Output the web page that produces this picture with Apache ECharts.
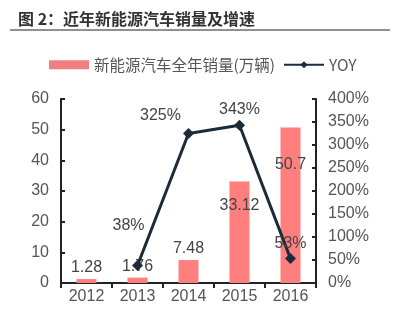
<!DOCTYPE html>
<html>
<head>
<meta charset="utf-8">
<script src="https://cdn.jsdelivr.net/npm/echarts@6/dist/echarts.min.js"></script>
<style>
  html, body { margin: 0; padding: 0; background: #fff; }
  #chart { width: 394px; height: 320px; }
</style>
</head>
<body>
<div id="chart"></div>
<script>
var years = ['2012', '2013', '2014', '2015', '2016'];
var sales = [1.28, 1.76, 7.48, 33.12, 50.7];
var yoy = ['-', 38, 325, 343, 53];

var font = 'Liberation Sans, Arial, Noto Sans CJK SC';

var myChart = echarts.init(document.getElementById('chart'));

// label placement per bar (small bars above, big bars inside)
var barLabelPos = ['top', 'top', 'top', 'insideTop', 'insideTop'];
var barLabelOff = [[0, 2], [0, 2], [0, 2], [0, 11], [0, 24]];
// label offsets for the line points
var lineLabelOff = [[0, 0], [-9, -20], [-28, 2], [0, 4], [0, 4]];

var option = {
    animation: false,
    textStyle: { fontFamily: font },
    title: {
        text: '图 2：近年新能源汽车销量及增速',
        left: 13,
        top: 6,
        textStyle: {
            fontFamily: 'Noto Sans CJK SC',
            fontSize: 16,
            fontWeight: 'bold',
            color: '#333'
        }
    },
    graphic: [{
        type: 'line',
        shape: { x1: 10, y1: 30, x2: 390, y2: 30 },
        style: { stroke: '#222', lineWidth: 1 }
    }],
    legend: {
        left: 44,
        top: 52,
        itemGap: 8,
        textStyle: { fontFamily: 'Noto Sans CJK SC', fontSize: 15.5, color: '#555' },
        data: [
            { name: '新能源汽车全年销量(万辆)', icon: 'rect', itemStyle: { color: '#f08080' } },
            { name: 'YOY' }
        ],
        itemWidth: 40,
        itemHeight: 9
    },
    grid: { left: 61, right: 78, top: 99, bottom: 37 },
    xAxis: {
        type: 'category',
        data: years,
        axisLine: { lineStyle: { color: '#222', width: 2 } },
        axisTick: { show: true, inside: false, length: 5, lineStyle: { color: '#222', width: 2 } },
        axisLabel: { fontSize: 16, color: '#555', margin: 6, fontFamily: font }
    },
    yAxis: [{
        type: 'value',
        min: 0,
        max: 60,
        interval: 10,
        splitLine: { show: false },
        axisLine: { show: true, lineStyle: { color: '#222', width: 2 } },
        axisTick: { show: true, inside: true, length: 4, lineStyle: { color: '#222', width: 2 } },
        axisLabel: { fontSize: 16, color: '#555', margin: 12, fontFamily: font }
    }, {
        type: 'value',
        min: 0,
        max: 400,
        interval: 50,
        splitLine: { show: false },
        axisLine: { show: true, lineStyle: { color: '#222', width: 2 } },
        axisTick: { show: true, inside: true, length: 4, lineStyle: { color: '#222', width: 2 } },
        axisLabel: { fontSize: 16, color: '#555', margin: 12, formatter: '{value}%', fontFamily: font }
    }],
    series: [{
        name: '新能源汽车全年销量(万辆)',
        type: 'bar',
        barWidth: 20,
        itemStyle: { color: '#ff7f7f' },
        data: sales.map(function (v, i) {
            return {
                value: v,
                label: {
                    show: true,
                    position: barLabelPos[i],
                    offset: barLabelOff[i],
                    fontSize: 16,
                    color: '#444',
                    fontFamily: font
                }
            };
        })
    }, {
        name: 'YOY',
        type: 'line',
        yAxisIndex: 1,
        symbol: 'diamond',
        symbolSize: 11,
        lineStyle: { color: '#1c2b3a', width: 3 },
        itemStyle: { color: '#1c2b3a' },
        data: yoy.map(function (v, i) {
            return {
                value: v,
                label: {
                    show: true,
                    position: 'top',
                    distance: 6,
                    offset: lineLabelOff[i],
                    formatter: '{c}%',
                    fontSize: 16,
                    color: '#444',
                    fontFamily: font
                }
            };
        })
    }]
};

myChart.setOption(option);
</script>
</body>
</html>
